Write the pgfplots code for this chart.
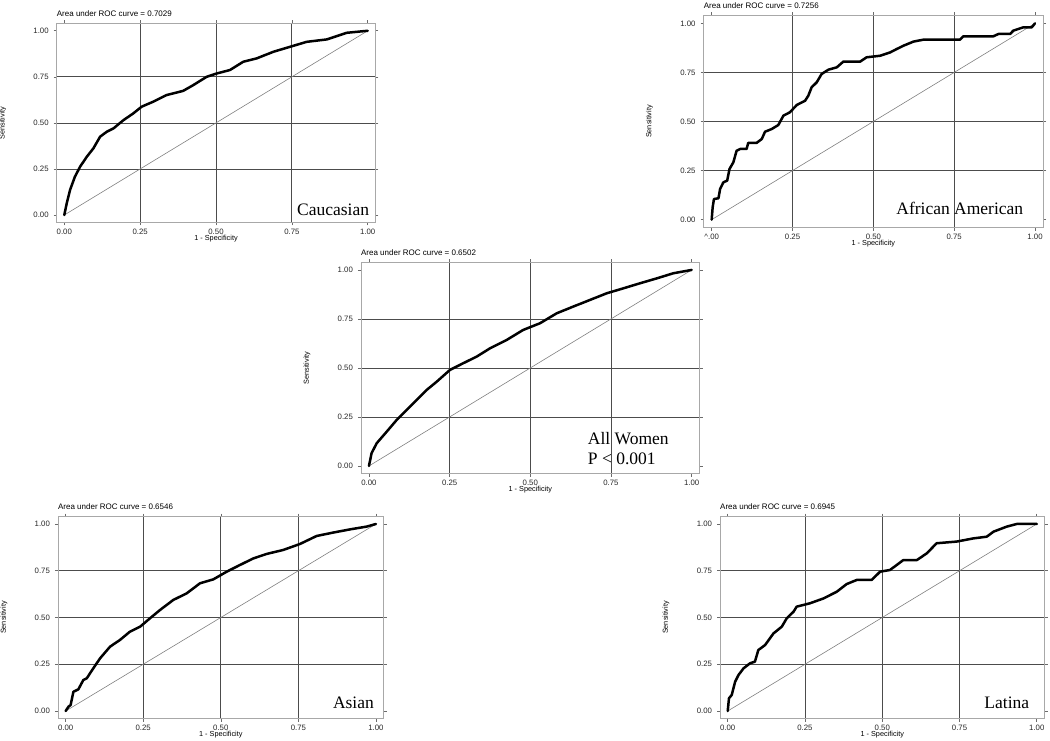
\documentclass[border=0pt]{standalone}
\usepackage{fontspec}
\setmainfont{Liberation Serif}
\newfontfamily\arial{Liberation Sans}
\usepackage{pgfplots}
\pgfplotsset{compat=1.18}

\definecolor{gridc}{gray}{0.3}
\definecolor{framec}{gray}{0.66}
\definecolor{tickc}{gray}{0.42}
\definecolor{diagc}{gray}{0.5}

\pgfplotsset{
 roc/.style={
  scale only axis,
  anchor=south west,
  clip=false,
  xmin=-0.025, xmax=1.025, ymin=-0.04, ymax=1.04,
  xtick={0,0.25,0.5,0.75,1}, ytick={0,0.25,0.5,0.75,1},
  xticklabels={0.00,0.25,0.50,0.75,1.00},
  yticklabels={0.00,0.25,0.50,0.75,1.00},
  minor xtick={0.25,0.5,0.75}, minor ytick={0.25,0.5,0.75},
  minor tick length=0pt,
  grid=minor,
  minor grid style={gridc, line width=0.75pt},
  tick pos=both,
  tick align=outside,
  major tick length=3pt,
  major tick style={tickc, line width=0.6pt},
  axis line style={framec, line width=0.7pt},
  ticklabel style={font=\arial\fontsize{7.8}{9}\selectfont, text=black!85},
  yticklabel style={xshift=-1.5pt},
 },
 curve/.style={black, line width=2.5pt, line join=round, line cap=round},
 diag/.style={diagc, line width=0.6pt},
}

\newcommand{\rocdecor}[1]{%
  \node[anchor=base west, font=\arial\fontsize{8}{9}\selectfont, inner sep=0pt] at ([yshift=7pt]rel axis cs:0,1) {Area under ROC curve = #1};
  \node[font=\arial\fontsize{7.3}{8}\selectfont, inner sep=0pt] at ([yshift=-16pt]rel axis cs:0.5,0) {1 - Specificity};
  \node[rotate=90, font=\arial\fontsize{7.3}{8}\selectfont, inner sep=0pt] at ([xshift=-54pt]rel axis cs:0,0.5) {Sensitivity};
}

\begin{document}
\begin{tikzpicture}
\path[use as bounding box] (0pt,-741pt) rectangle (1050pt,0pt);

% ---------------- Caucasian ----------------
\begin{axis}[roc, at={(56.7pt,-222.4pt)}, width=318.6pt, height=199pt]
\addplot[diag] coordinates {(0,0) (1,1)};
\addplot[curve] coordinates {
(0,0) (0.008,0.063) (0.019,0.136) (0.035,0.208) (0.052,0.262) (0.074,0.316)
(0.096,0.362) (0.118,0.425) (0.140,0.452) (0.162,0.470) (0.195,0.515) (0.227,0.551)
(0.255,0.588) (0.293,0.615) (0.337,0.651) (0.392,0.674) (0.425,0.705) (0.469,0.750)
(0.502,0.768) (0.546,0.787) (0.590,0.832) (0.634,0.850) (0.689,0.886) (0.744,0.913)
(0.799,0.940) (0.865,0.953) (0.931,0.989) (1,1)};
\rocdecor{0.7029}
\node[anchor=base east, font=\fontsize{17.5}{19}\selectfont, inner sep=0pt] at (axis cs:1.005,-0.005) {Caucasian};
\end{axis}

% ---------------- African American ----------------
\begin{axis}[roc, at={(703.6pt,-227.5pt)}, width=339.5pt, height=212pt,
  xticklabels={\textasciicircum.00,0.25,0.50,0.75,1.00}]
\addplot[diag] coordinates {(0,0) (1,1)};
\addplot[curve] coordinates {
(0,0) (0.003,0.063) (0.007,0.105) (0.021,0.109) (0.026,0.156) (0.036,0.190)
(0.048,0.199) (0.055,0.258) (0.067,0.292) (0.077,0.351) (0.088,0.360) (0.108,0.360)
(0.113,0.391) (0.139,0.391) (0.155,0.411) (0.165,0.448) (0.186,0.462) (0.206,0.482)
(0.222,0.530) (0.242,0.547) (0.263,0.584) (0.289,0.606) (0.299,0.632) (0.309,0.674)
(0.325,0.700) (0.340,0.742) (0.361,0.764) (0.387,0.776) (0.407,0.805) (0.459,0.805)
(0.479,0.827) (0.521,0.835) (0.552,0.852) (0.572,0.869) (0.593,0.886) (0.624,0.907)
(0.655,0.917) (0.768,0.917) (0.778,0.934) (0.871,0.934) (0.887,0.946) (0.923,0.946)
(0.933,0.963) (0.964,0.980) (0.990,0.980) (1,1)};
\rocdecor{0.7256}
\node[anchor=base east, font=\fontsize{17.5}{19}\selectfont, inner sep=0pt] at (axis cs:0.964,0.024) {African American};
\end{axis}

% ---------------- All Women ----------------
\begin{axis}[roc, at={(360.9pt,-473.8pt)}, width=338.8pt, height=211.7pt]
\addplot[diag] coordinates {(0,0) (1,1)};
\addplot[curve] coordinates {
(0,0) (0.008,0.065) (0.024,0.116) (0.055,0.175) (0.086,0.235) (0.117,0.286)
(0.148,0.337) (0.179,0.388) (0.210,0.430) (0.251,0.490) (0.292,0.524) (0.334,0.558)
(0.375,0.600) (0.427,0.643) (0.478,0.694) (0.530,0.728) (0.582,0.779) (0.633,0.813)
(0.685,0.847) (0.737,0.881) (0.788,0.906) (0.840,0.932) (0.892,0.957) (0.943,0.983) (1,1)};
\rocdecor{0.6502}
\node[anchor=base west, font=\fontsize{17.5}{19}\selectfont, inner sep=0pt] at (axis cs:0.678,0.107) {All Women};
\node[anchor=base west, font=\fontsize{17.5}{19}\selectfont, inner sep=0pt] at (axis cs:0.678,0.010) {P < 0.001};
\end{axis}

% ---------------- Asian ----------------
\begin{axis}[roc, at={(57.9pt,-718.5pt)}, width=325.8pt, height=202pt]
\addplot[diag] coordinates {(0,0) (1,1)};
\addplot[curve] coordinates {
(0,0) (0.009,0.023) (0.016,0.032) (0.025,0.103) (0.041,0.116) (0.057,0.166)
(0.068,0.175) (0.089,0.228) (0.111,0.282) (0.143,0.344) (0.175,0.380) (0.207,0.424)
(0.240,0.451) (0.272,0.496) (0.304,0.540) (0.347,0.594) (0.390,0.629) (0.433,0.683)
(0.476,0.704) (0.519,0.745) (0.562,0.781) (0.605,0.816) (0.648,0.840) (0.701,0.861)
(0.755,0.893) (0.809,0.936) (0.862,0.954) (0.916,0.971) (0.970,0.986) (1,1)};
\rocdecor{0.6546}
\node[anchor=base east, font=\fontsize{17.5}{19}\selectfont, inner sep=0pt] at (axis cs:0.994,0.014) {Asian};
\end{axis}

% ---------------- Latina ----------------
\begin{axis}[roc, at={(720pt,-718.5pt)}, width=324.5pt, height=202pt]
\addplot[diag] coordinates {(0,0) (1,1)};
\addplot[curve] coordinates {
(0,0) (0.004,0.068) (0.013,0.086) (0.024,0.157) (0.035,0.193) (0.051,0.228)
(0.072,0.255) (0.088,0.264) (0.099,0.326) (0.121,0.353) (0.148,0.415) (0.175,0.451)
(0.191,0.496) (0.213,0.531) (0.223,0.558) (0.266,0.576) (0.310,0.602) (0.353,0.638)
(0.385,0.679) (0.418,0.701) (0.466,0.701) (0.493,0.745) (0.525,0.754) (0.568,0.807)
(0.612,0.807) (0.644,0.843) (0.676,0.897) (0.741,0.906) (0.795,0.923) (0.838,0.932)
(0.860,0.959) (0.903,0.986) (0.935,1.000) (1,1)};
\rocdecor{0.6945}
\node[anchor=base east, font=\fontsize{17.5}{19}\selectfont, inner sep=0pt] at (axis cs:0.976,0.014) {Latina};
\end{axis}
\end{tikzpicture}
\end{document}
